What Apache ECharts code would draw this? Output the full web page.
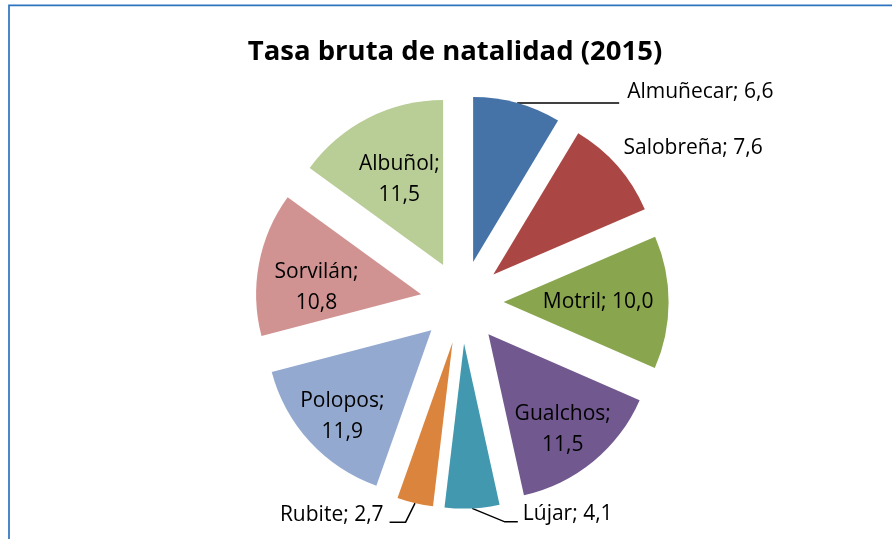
<!DOCTYPE html>
<html>
<head>
<meta charset="utf-8">
<script src="https://cdn.jsdelivr.net/npm/echarts@6/dist/echarts.min.js"></script>
<style>
  html, body { margin: 0; padding: 0; background: #fff; }
  #chart { width: 892px; height: 539px; }
</style>
</head>
<body>
<div id="chart"></div>
<script>
// ---- data ----
const chartTitle = 'Tasa bruta de natalidad (2015)';
const categories = ['Almuñecar', 'Salobreña', 'Motril', 'Gualchos', 'Lújar', 'Rubite', 'Polopos', 'Sorvilán', 'Albuñol'];
const values = [6.6, 7.6, 10.0, 11.5, 4.1, 2.7, 11.9, 10.8, 11.5];

// ---- styles ----
const colors = ['#4572A7', '#AA4643', '#89A54E', '#71588F', '#4198AF', '#DB843D', '#93A9CF', '#D19392', '#B9CD96'];
const pieCenter = [462, 302];
const pieRadius = 165;
const explode = 41.6;
// label placement style per category
const labelStyle = {
  'Almuñecar': { pos: 'outside', len: 0, len2: 102, dist: 8, shiftY: -10.5, line: true },
  'Salobreña': { pos: 'outside', len: 0, len2: 0, dist: 6, shiftY: -18, line: false },
  'Motril':    { pos: 'inside', extra: 9, adjY: 0, twoLine: false },
  'Gualchos':  { pos: 'inside', extra: 31.5, adjY: 5, twoLine: true },
  'Lújar':     { pos: 'outside', len: 13.5, len2: 45, dist: 5, shiftY: -7.5, line: true, elbow: 13 },
  'Rubite':    { pos: 'outside', len: 19.5, len2: 21, dist: 6, shiftY: -7.5, line: true, elbow: 16 },
  'Polopos':   { pos: 'inside', extra: 35.5, adjY: 4, twoLine: true },
  'Sorvilán':  { pos: 'inside', extra: 21, adjY: 13, twoLine: true },
  'Albuñol':   { pos: 'inside', extra: 11, adjY: 1, twoLine: true }
};

function fmt(v) { return v.toFixed(1).replace('.', ','); }

const total = values.reduce((a, b) => a + b, 0);
let cum = 0;
const labelShift = [];
const seriesData = categories.map((name, i) => {
  const v = values[i];
  const mid = (cum + v / 2) / total * 2 * Math.PI; // clockwise from top
  cum += v;
  const ux = Math.sin(mid), uy = -Math.cos(mid);
  const st = labelStyle[name];
  let label, labelLine;
  if (st.pos === 'inside') {
    labelShift.push({ dx: st.extra * ux, dy: st.extra * uy + st.adjY });
    label = {
      position: 'inside',
      formatter: st.twoLine ? name + ';\n' + fmt(v) : name + '; ' + fmt(v)
    };
    labelLine = { show: false };
  } else {
    labelShift.push({ dx: 0, dy: st.shiftY, elbow: st.elbow, right: ux > 0 });
    label = {
      position: 'outside',
      formatter: name + '; ' + fmt(v),
      distanceToLabelLine: st.dist
    };
    labelLine = { show: st.line, length: st.len, length2: st.len2 };
  }
  return {
    name: name,
    value: v,
    selected: true,
    itemStyle: { color: colors[i] },
    label: label,
    labelLine: labelLine
  };
});

const chart = echarts.init(document.getElementById('chart'), null, { renderer: 'canvas' });
chart.setOption({
  animation: false,
  backgroundColor: '#ffffff',
  title: {
    text: chartTitle,
    left: 455,
    top: 52,
    padding: 0,
    textAlign: 'center',
    textVerticalAlign: 'middle',
    textStyle: { fontFamily: 'Open Sans', fontWeight: 'bold', fontSize: 27.5, color: '#000' }
  },
  graphic: [{
    type: 'rect',
    silent: true,
    shape: { x: 9, y: 5.3, width: 1200, height: 1200 },
    style: { fill: 'none', stroke: '#2C74BE', lineWidth: 1.7 }
  }],
  series: [{
    type: 'pie',
    center: pieCenter,
    radius: [0, pieRadius],
    startAngle: 90,
    clockwise: true,
    selectedMode: 'multiple',
    selectedOffset: explode,
    avoidLabelOverlap: false,
    itemStyle: { borderWidth: 0 },
    label: {
      show: true,
      color: '#000',
      fontFamily: 'Open Sans',
      fontSize: 21,
      lineHeight: 31
    },
    labelLine: {
      lineStyle: { color: '#000', width: 1.5 }
    },
    labelLayout: function (p) {
      const s = labelShift[p.dataIndex];
      const out = { dx: s.dx, dy: s.dy, hideOverlap: false, moveOverlap: null };
      if (s.elbow && p.labelLinePoints && p.labelLinePoints.length === 3) {
        const pts = p.labelLinePoints;
        const end = pts[2];
        out.labelLinePoints = [pts[0], [end[0] + (s.right ? -s.elbow : s.elbow), end[1]], end];
      }
      return out;
    },
    emphasis: { disabled: true },
    data: seriesData
  }]
});
</script>
</body>
</html>
